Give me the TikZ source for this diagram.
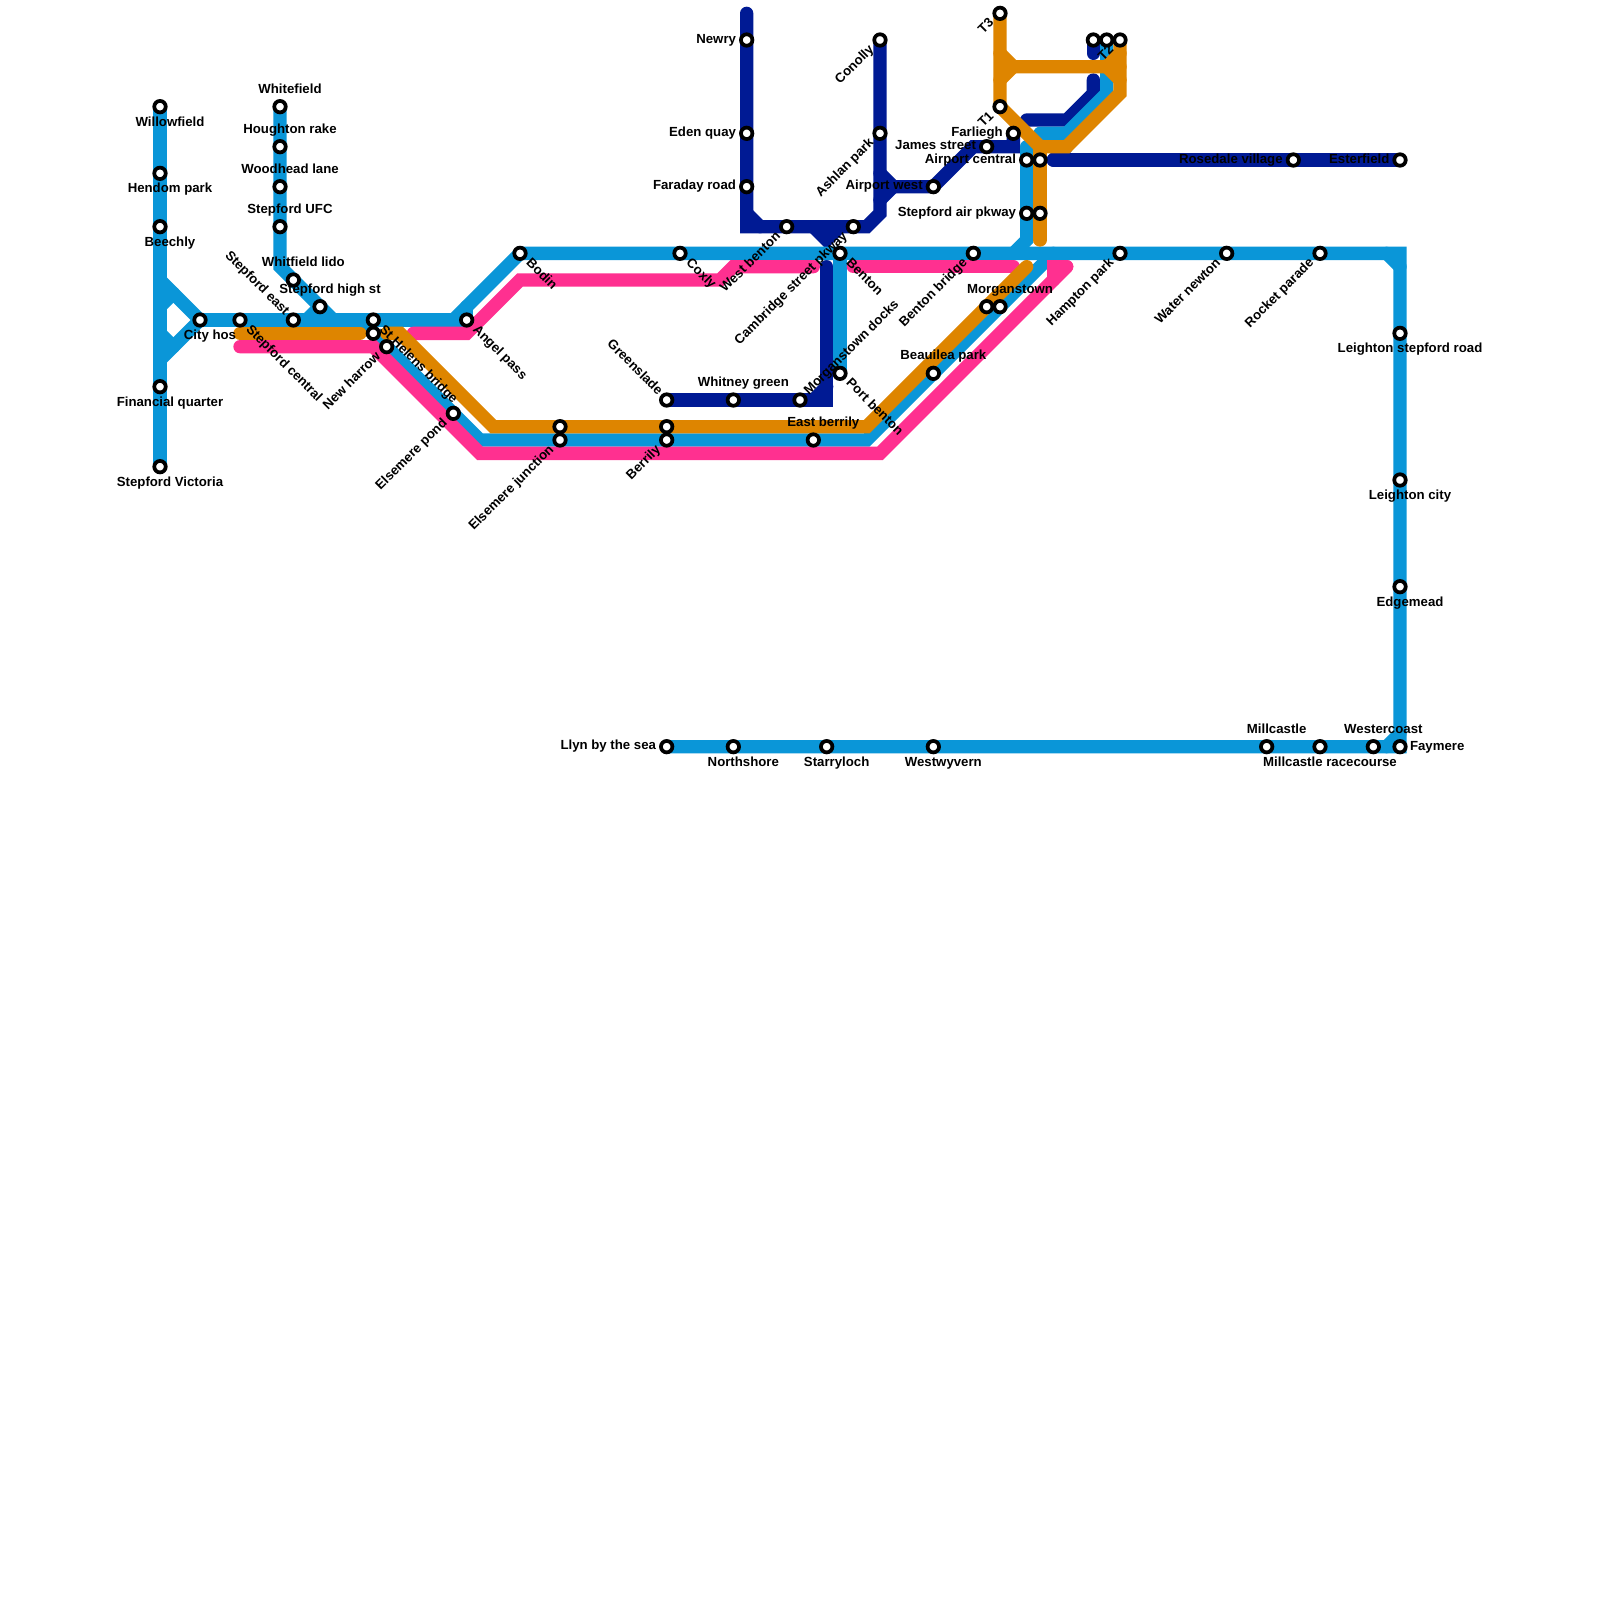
\documentclass[tikz,border=0pt]{standalone}
\usepackage{fontspec}
\setmainfont{Liberation Sans}
\usetikzlibrary{calc}
\definecolor{mblue}{RGB}{10,150,216}
\definecolor{mnavy}{RGB}{0,26,148}
\definecolor{mpink}{RGB}{255,48,144}
\definecolor{morange}{RGB}{222,133,0}
\pgfdeclarelayer{lines}
\pgfsetlayers{lines,main}
\tikzset{
  metro/.style={line width=.5cm,line cap=round,line join=miter},
  bline/.style={metro,draw=mblue},
  nline/.style={metro,draw=mnavy},
  pline/.style={metro,draw=mpink},
  oline/.style={metro,draw=morange},
  stn/.style={circle,draw=black,fill=white,line width=.14cm,minimum size=.43cm,inner sep=0pt,outer sep=0pt},
  lbl/.style={inner sep=0pt,outer sep=0pt,text height=.72em,text depth=.2em,font=\fontsize{14.1}{17}\selectfont\bfseries},
}
\newcommand{\LA}[2]{\node[lbl] (#1L) at ($(#1)+(.75,-1.19)$) {#2};}
\newcommand{\LB}[2]{\node[lbl] (#1L) at ($(#1)+(.75,1.29)$) {#2};}
\newcommand{\LL}[2]{\node[lbl,anchor=east] (#1L) at ($(#1)+(-.8,.06)$) {#2};}
\newcommand{\LR}[2]{\node[lbl,anchor=west] (#1L) at ($(#1)+(.75,.08)$) {#2};}
\newcommand{\LDR}[2]{\node[lbl,anchor=west,rotate=-45] (#1L) at ($(#1)+(.55,.65)$) {#2};}
\newcommand{\LUL}[2]{\node[lbl,anchor=east,rotate=-45] (#1L) at ($(#1)+(-.55,-.45)$) {#2};}
\newcommand{\LDL}[2]{\node[lbl,anchor=east,rotate=45] (#1L) at ($(#1)+(-.55,.65)$) {#2};}
\newcommand{\LUR}[2]{\node[lbl,anchor=west,rotate=45] (#1L) at ($(#1)+(.55,-.45)$) {#2};}
\begin{document}
\begin{tikzpicture}[x=.5cm,y=-.5cm]
\useasboundingbox (0,0) rectangle (120,120);
% stations
\foreach \n/\x/\y in {willow/12/8,hendom/12/13,beechly/12/17,finq/12/29,vict/12/35,cityh/15/24,
 whitef/21/8,hough/21/11,woodh/21/14,ufc/21/17,lido/22/21,highst/24/23,seast/22/24,scent/18/24,
 sthel/28/24,sthelb/28/25,newh/29/26,elpond/34/31,angel/35/24,bodin/39/19,eljn/42/33,eljnb/42/32,
 berr/50/33,berrb/50/32,greens/50/30,whitn/55/30,mdocks/60/30,eberr/61/33,pben/63/28,coxly/51/19,
 benton/63/19,wben/59/17,camb/64/17,newry/56/3,eden/56/10,farad/56/14,conol/66/3,ashl/66/10,
 awest/70/14,james/74/11,farl/76/10,tthree/75/1,tone/75/8,ttwoa/82/3,ttwo/83/3,ttwoc/84/3,
 acen/77/12,acenb/78/12,sair/77/16,sairb/78/16,bbr/73/19,hamp/84/19,water/92/19,rocket/99/19,
 rose/97/12,ester/105/12,beau/70/28,morgb/74/23,morg/75/23,lsr/105/25,lcity/105/36,edge/105/44,
 fay/105/56,westc/103/56,mrace/99/56,mill/95/56,wwyv/70/56,starry/62/56,north/55/56,llyn/50/56}
 {\node[stn] (\n) at (\x,\y) {};}
\coordinate (cne) at (105,19);
% labels
\LB{willow}{Willowfield}
\LB{hendom}{Hendom park}
\LB{beechly}{Beechly}
\LB{finq}{Financial quarter}
\LB{vict}{Stepford Victoria}
\LB{cityh}{City hos}
\LA{whitef}{Whitefield}
\LA{hough}{Houghton rake}
\LA{woodh}{Woodhead lane}
\LA{ufc}{Stepford UFC}
\LA{lido}{Whitfield lido}
\LA{highst}{Stepford high st}
\LUL{seast}{Stepford east}
\LDR{scent}{Stepford central}
\LDR{sthel}{St Helens bridge}
\LDL{newh}{New harrow}
\LDL{elpond}{Elsemere pond}
\LDR{angel}{Angel pass}
\LDR{bodin}{Bodin}
\LDL{eljn}{Elsemere junction}
\LDL{berr}{Berrily}
\LUL{greens}{Greenslade}
\LA{whitn}{Whitney green}
\LUR{mdocks}{Morganstown docks}
\LA{eberr}{East berrily}
\LDR{pben}{Port benton}
\LDR{coxly}{Coxly}
\LDR{benton}{Benton}
\LDL{wben}{West benton}
\LDL{camb}{Cambridge street pkway}
\LL{newry}{Newry}
\LL{eden}{Eden quay}
\LL{farad}{Faraday road}
\LDL{conol}{Conolly}
\LDL{ashl}{Ashlan park}
\LL{awest}{Airport west}
\LL{james}{James street}
\LL{farl}{Farliegh}
\LDL{tthree}{T3}
\LDL{tone}{T1}
\LDL{ttwoc}{T2}
\LL{acen}{Airport central}
\LL{sair}{Stepford air pkway}
\LDL{bbr}{Benton bridge}
\LDL{hamp}{Hampton park}
\LDL{water}{Water newton}
\LDL{rocket}{Rocket parade}
\LL{rose}{Rosedale village}
\LL{ester}{Esterfield}
\LA{beau}{Beauilea park}
\LA{morg}{Morganstown}
\LB{lsr}{Leighton stepford road}
\LB{lcity}{Leighton city}
\LB{edge}{Edgemead}
\LR{fay}{Faymere}
\LA{westc}{Westercoast}
\LB{mrace}{Millcastle racecourse}
\LA{mill}{Millcastle}
\LB{wwyv}{Westwyvern}
\LB{starry}{Starryloch}
\LB{north}{Northshore}
\LL{llyn}{Llyn by the sea}
% lines
\begin{pgfonlayer}{lines}
\fill[white] (0,0) rectangle (120,120);
% navy
\draw[nline] (56,1) -- (56,17) -- (65,17) -- (66,16) -- (conol.center);
\draw[nline] (56,16) -- (57,17);
\draw[nline] (61,17) -- (62,18) -- (63,17);
\draw[nline] (greens.center) -- (62,30) -- (62,20);
\draw[nline] (61,30) -- (62,29);
\draw[nline] (66,13) -- (67,14) -- (awest.center) -- (73,11) -- (76,11) -- (farl.center);
\draw[nline] (66,15) -- (67,14);
\draw[nline] (ttwoa.center) -- (82,4);
\draw[nline] (82,6) -- (82,7) -- (80,9) -- (77,9);
\draw[nline] (79,12) -- (ester.center);
\draw[nline] (79,12) -- (80,11);
% blue
\draw[bline] (willow.center) -- (vict.center);
\draw[bline] (12,21) -- (cityh.center);
\draw[bline] (12,27) -- (cityh.center);
\draw[bline] (12,23) -- (13,22);
\draw[bline] (12,25) -- (13,26);
\draw[bline] (cityh.center) -- (angel.center) -- (35,23);
\draw[bline] (34,24) -- (bodin.center) -- (cne) -- (fay.center) -- (llyn.center);
\draw[bline] (104,19) -- (105,20);
\draw[bline] (104,56) -- (105,55);
\draw[bline] (whitef.center) -- (21,20) -- (25,24);
\draw[bline] (23,24) -- (highst.center);
\draw[bline] (27,24) -- (36,33) -- (65,33) -- (79,19);
\draw[bline] (benton.center) -- (pben.center);
\draw[bline] (77,11) -- (77,18) -- (76,19);
\draw[bline] (ttwo.center) -- (83,7) -- (80,10) -- (78,10);
% pink
\draw[pline] (18,26) -- (28,26) -- (36,34) -- (66,34) -- (80,20);
\draw[pline] (79,21) -- (79,20) -- (80,20);
\draw[pline] (31,25) -- (35,25) -- (39,21) -- (54,21) -- (55,20) -- (61,20);
\draw[pline] (64,20) -- (76,20);
% orange
\draw[oline] (18,25) -- (27,25);
\draw[oline] (29,25) -- (30,25) -- (37,32) -- (65,32) -- (77,20);
\draw[oline] (tthree.center) -- (tone.center) -- (78,11) -- (80,11) -- (84,7) -- (ttwoc.center);
\draw[oline] (78,11) -- (sairb.center) -- (78,18);
\draw[oline] (75,4) -- (76,5) -- (84,5);
\draw[oline] (75,6) -- (76,5);
\draw[oline] (84,4) -- (83,5) -- (84,6);
\end{pgfonlayer}
\end{tikzpicture}
\end{document}
